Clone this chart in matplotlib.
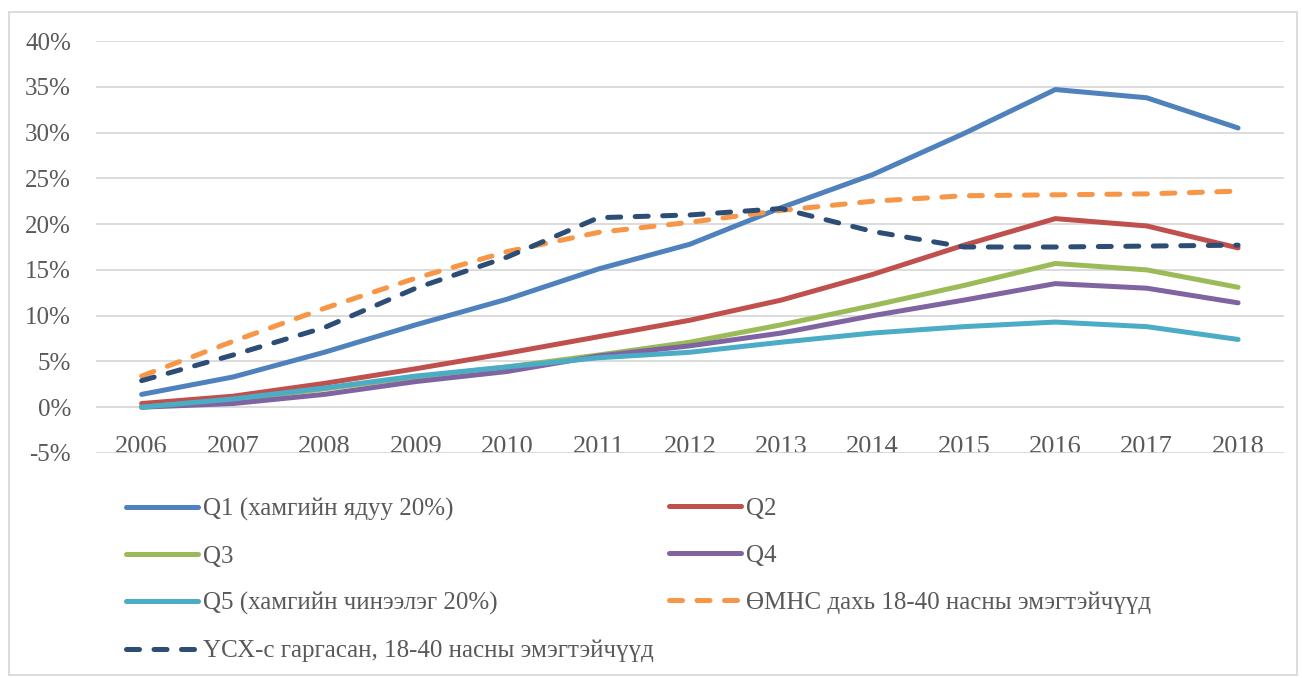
import numpy as np
import matplotlib.pyplot as plt
from matplotlib.patches import Rectangle

plt.rcParams['font.family'] = ['Liberation Serif', 'DejaVu Serif']

years = list(range(2006, 2019))
q1 = [1.4, 3.3, 6.0, 9.0, 11.8, 15.1, 17.8, 21.8, 25.4, 29.9, 34.7, 33.8, 30.5]
q2 = [0.4, 1.2, 2.6, 4.2, 5.9, 7.7, 9.5, 11.7, 14.5, 17.7, 20.6, 19.8, 17.4]
q3 = [0.0, 0.8, 2.0, 3.3, 4.4, 5.7, 7.1, 9.0, 11.1, 13.3, 15.7, 15.0, 13.1]
q4 = [0.0, 0.4, 1.4, 2.8, 3.9, 5.6, 6.7, 8.1, 10.0, 11.7, 13.5, 13.0, 11.4]
q5 = [0.0, 0.9, 2.1, 3.4, 4.4, 5.4, 6.0, 7.1, 8.1, 8.8, 9.3, 8.8, 7.4]
omhs = [3.4, 7.2, 10.8, 14.1, 17.0, 19.1, 20.2, 21.5, 22.5, 23.1, 23.2, 23.3, 23.6]
usx = [2.9, 5.7, 8.7, 13.0, 16.4, 20.7, 21.0, 21.7, 19.2, 17.5, 17.5, 17.6, 17.7]

labels = ['Q1 (хамгийн ядуу 20%)', 'Q2', 'Q3', 'Q4',
          'Q5 (хамгийн чинээлэг 20%)',
          'ӨМНС дахь 18-40 насны эмэгтэйчүүд',
          'ҮСХ-с гаргасан, 18-40 насны эмэгтэйчүүд']
colors = ['#4F81BD', '#C0504D', '#9BBB59', '#8064A2', '#4BACC6', '#F79646', '#2C4D75']
series = [q1, q2, q3, q4, q5, omhs, usx]
styles = ['-', '-', '-', '-', '-', '--', '--']
yticks = list(range(-5, 41, 5))

fig = plt.figure(figsize=(13.02, 6.78), dpi=100)
ax = fig.add_axes([0.0737, 0.3319, 0.9123, 0.6076])

lines = []
for s, c, ls, lab in zip(series, colors, styles, labels):
    ln, = ax.plot(years, s, color=c, lw=3.6, ls=ls, label=lab,
                  solid_capstyle='round', dash_capstyle='round')
    if ls == '--':
        ln.set_dashes((2.6, 2.9))
    lines.append(ln)

ax.set_xlim(2005.5, 2018.5)
ax.set_ylim(-5, 40)
ax.set_yticks(yticks)
ax.set_yticklabels([f'{v}%' for v in yticks])
ax.set_xticks(years)
ax.grid(axis='y', color='#D9D9D9', lw=1.3)
ax.set_axisbelow(True)
for sp in ax.spines.values():
    sp.set_visible(False)
ax.spines['bottom'].set_position(('data', 0))
ax.tick_params(axis='both', length=0, colors='#595959')
ax.tick_params(axis='y', labelsize=18, pad=18)
ax.tick_params(axis='x', labelsize=19, pad=21)

leg_kw = dict(frameon=False, fontsize=18, handlelength=2.9, handletextpad=0.2,
              labelspacing=0.98, loc='upper left', borderaxespad=0, borderpad=0)
l1 = fig.legend([lines[i] for i in (0, 2, 4, 6)], [labels[i] for i in (0, 2, 4, 6)],
                bbox_to_anchor=(0.0965, 0.266), **leg_kw)
l2 = fig.legend([lines[i] for i in (1, 3, 5)], [labels[i] for i in (1, 3, 5)],
                bbox_to_anchor=(0.5135, 0.266), **leg_kw)
for lg in (l1, l2):
    for t in lg.get_texts():
        t.set_color('#595959')

fig.patches.append(Rectangle((9 / 1302, 3 / 678), 1288 / 1302, 663 / 678,
                             transform=fig.transFigure, fill=False,
                             edgecolor='#D9D9D9', lw=1.3))

fig.savefig('out.png', dpi=100)
